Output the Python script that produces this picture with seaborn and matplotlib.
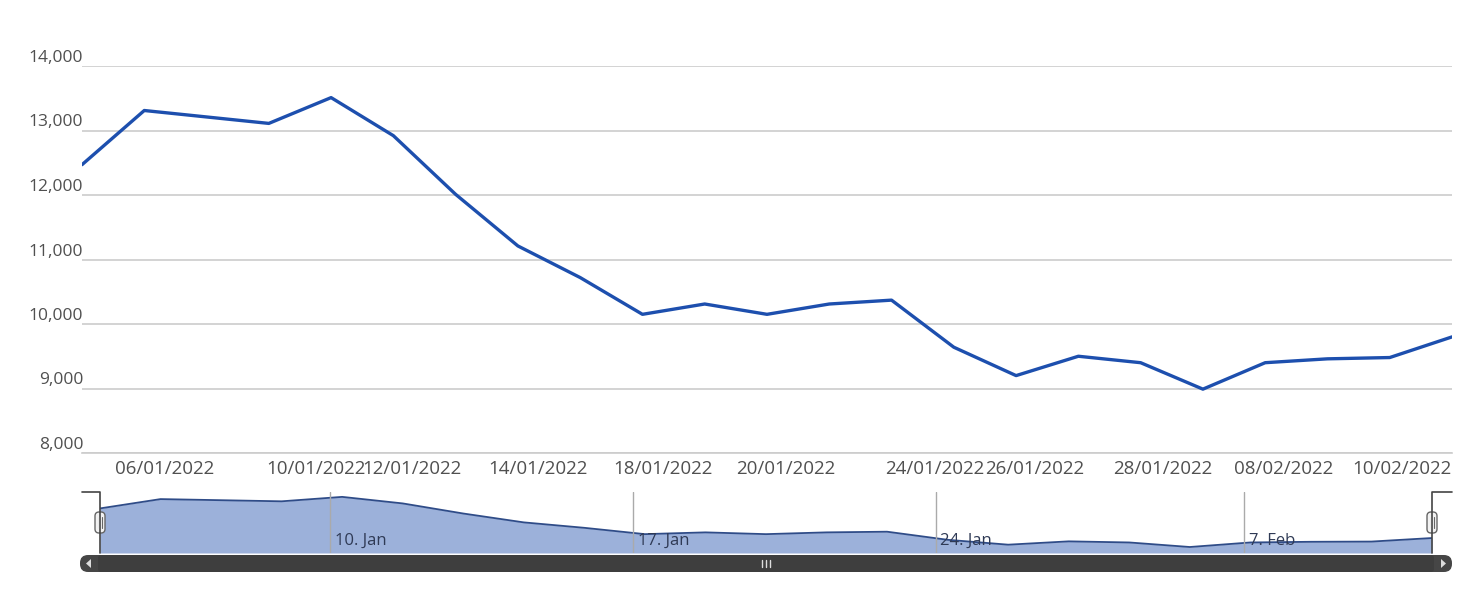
import matplotlib
matplotlib.use("Agg")
import matplotlib.pyplot as plt
import matplotlib.patches as mpatches
import seaborn as sns
import pandas as pd
import numpy as np

# ---- data ----
dates = ["04/01/2022", "05/01/2022", "06/01/2022", "07/01/2022", "10/01/2022",
         "11/01/2022", "12/01/2022", "13/01/2022", "14/01/2022", "17/01/2022",
         "18/01/2022", "19/01/2022", "20/01/2022", "21/01/2022", "24/01/2022",
         "25/01/2022", "26/01/2022", "27/01/2022", "28/01/2022", "07/02/2022",
         "08/02/2022", "09/02/2022", "10/02/2022"]
values = [12470, 13310, 13210, 13110, 13510, 12920, 12010, 11210, 10720, 10150,
          10310, 10150, 10310, 10370, 9640, 9200, 9500, 9400, 8990, 9400,
          9460, 9480, 9800]
tick_labels = ["06/01/2022", "10/01/2022", "12/01/2022", "14/01/2022", "18/01/2022",
               "20/01/2022", "24/01/2022", "26/01/2022", "28/01/2022", "08/02/2022",
               "10/02/2022"]
y_ticks = [8000, 9000, 10000, 11000, 12000, 13000, 14000]
nav_labels = ["10. Jan", "17. Jan", "24. Jan", "7. Feb"]

df = pd.DataFrame({"idx": np.arange(len(values)), "date": dates, "value": values})

# layout helpers (index positions of the labels as drawn)
tick_pos = [1.33, 3.75, 5.3, 7.32, 9.33, 11.3, 13.7, 15.3, 17.35, 19.3, 21.2]
nav_pos = [3.8, 8.8, 13.8, 18.9]

sns.set_theme(style="white")
plt.rcParams["font.family"] = ["Open Sans", "DejaVu Sans"]

W, H = 1476, 597
fig = plt.figure(figsize=(W / 100, H / 100), dpi=100)

def rect(x0, y0, x1, y1):
    return [x0 / W, 1 - y1 / H, (x1 - x0) / W, (y1 - y0) / H]

# ---- main chart ----
ax = fig.add_axes(rect(82, 66, 1452, 453))
line_col = "#1d4fae"
sns.lineplot(data=df, x="idx", y="value", ax=ax, color=line_col, linewidth=2.4)
ax.set_xlim(0, len(values) - 1)
ax.set_ylim(8000, 14000)
ax.set_yticks(y_ticks)
ax.set_yticklabels([f"{v:,}" for v in y_ticks])
for lbl in ax.get_yticklabels():
    lbl.set_verticalalignment("bottom")
ax.set_xticks(tick_pos)
ax.set_xticklabels(tick_labels)
ax.tick_params(axis="y", length=0, pad=-1, labelsize=12.5, labelcolor="#505050")
ax.tick_params(axis="x", length=0, pad=5, labelsize=13.5, labelcolor="#505050")
ax.grid(axis="y", color="#cccccc", linewidth=1.2)
ax.grid(axis="x", visible=False)
for s in ["top", "right", "left"]:
    ax.spines[s].set_visible(False)
ax.spines["bottom"].set_color("#cccccc")
ax.spines["bottom"].set_linewidth(1.2)
ax.set_xlabel("")
ax.set_ylabel("")

# ---- navigator ----
nav = fig.add_axes(rect(100, 492, 1432, 553))
nav_fill = "#9cb1da"
nav.fill_between(df["idx"], df["value"], 8450, color=nav_fill, alpha=1.0, linewidth=0)
sns.lineplot(data=df, x="idx", y="value", ax=nav, color="#2f4c88", linewidth=1.3)
nav.set_xlim(0, len(values) - 1)
nav.set_ylim(8450, 13950)
nav.set_xticks([])
nav.set_yticks([])
nav.set_xlabel("")
nav.set_ylabel("")
for s in nav.spines.values():
    s.set_visible(False)
for p, t in zip(nav_pos, nav_labels):
    nav.axvline(p, color="#aaaaaa", linewidth=1.0)
    nav.text(p + 0.08, 8450 + 0.06 * (13950 - 8450), t, fontsize=12,
             color="#2f3a55", ha="left", va="bottom")

# ---- overlay: handles, outline, scrollbar ----
ov = fig.add_axes([0, 0, 1, 1])
ov.set_xlim(0, W)
ov.set_ylim(H, 0)
ov.axis("off")
ov.patch.set_alpha(0)
oc = "#444444"
ov.plot([82, 100, 100], [492, 492, 553], color=oc, linewidth=1.2)
ov.plot([1452, 1432, 1432], [492, 492, 553], color=oc, linewidth=1.2)
for hx in (100, 1432):
    ov.add_patch(mpatches.FancyBboxPatch((hx - 5, 512), 10, 21,
                 boxstyle="round,pad=0,rounding_size=4",
                 facecolor="#f2f2f2", edgecolor="#666666", linewidth=1.0))
    ov.plot([hx - 1.5, hx - 1.5], [517, 528], color="#666666", linewidth=0.8)
    ov.plot([hx + 1.5, hx + 1.5], [517, 528], color="#666666", linewidth=0.8)
# scrollbar
ov.add_patch(mpatches.FancyBboxPatch((80, 555), 1372, 17,
             boxstyle="round,pad=0,rounding_size=8",
             facecolor="#464646", edgecolor="none"))
ov.add_patch(mpatches.FancyBboxPatch((98, 555), 1336, 17,
             boxstyle="round,pad=0,rounding_size=3",
             facecolor="#3e3e3e", edgecolor="none"))
ov.add_patch(mpatches.Polygon([[91, 559], [91, 568], [86, 563.5]],
             closed=True, facecolor="#dddddd", edgecolor="none"))
ov.add_patch(mpatches.Polygon([[1441, 559], [1441, 568], [1446, 563.5]],
             closed=True, facecolor="#dddddd", edgecolor="none"))
for gx in (762, 766, 770):
    ov.plot([gx, gx], [560, 567], color="#dddddd", linewidth=1.0)

fig.savefig("out.png", dpi=100)
